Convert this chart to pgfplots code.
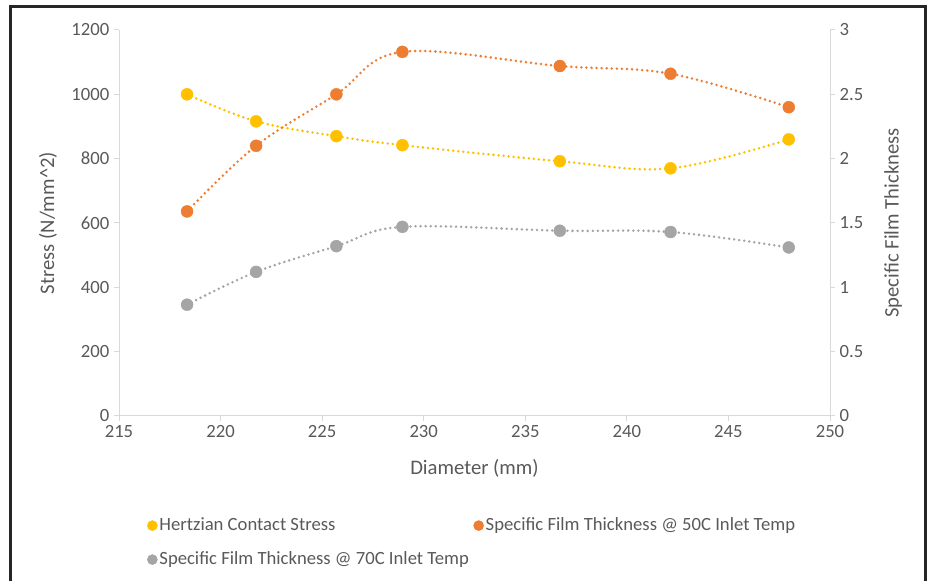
\documentclass[border=0pt]{standalone}
\usepackage{pgfplots}
\pgfplotsset{compat=1.18}
\usepackage{fontspec}
\setmainfont{Carlito}
\definecolor{cY}{HTML}{FFC000}
\definecolor{cO}{HTML}{ED7D31}
\definecolor{cG}{HTML}{A5A5A5}
\definecolor{txt}{HTML}{595959}
\definecolor{axl}{HTML}{D9D9D9}
\definecolor{frm}{HTML}{262626}
\pgfplotsset{
  myax/.style={
    at={(89.25pt,123.75pt)}, anchor=south west,
    scale only axis, width=533.25pt, height=289.5pt,
    xmin=215, xmax=250, xtick={215,220,...,250},
    tick align=outside, major tick length=3.75pt,
    axis line style={axl, line width=0.75pt},
    tick style={axl, line width=0.75pt},
    tick label style={txt, font=\fontsize{14}{16}\selectfont},
    label style={txt, font=\fontsize{15.5}{18}\selectfont},
    /pgf/number format/assume math mode=true,
    /pgf/number format/1000 sep={},
    clip=false,
  },
  ser/.style={#1, line width=2.1pt, dash pattern=on 0pt off 3.8pt, line cap=round, smooth, tension=0.6,
    mark=*, mark size=4.5pt, mark options={solid, fill=#1, draw=#1, line width=0.3pt}},
}
\begin{document}
\begin{tikzpicture}
\useasboundingbox (0pt,0pt) rectangle (698.25pt,435.75pt);
\draw[frm, line width=2.4pt] (7.875pt,-5pt) -- (7.875pt,430.875pt) -- (694.125pt,430.875pt) -- (694.125pt,-5pt);
\begin{axis}[myax, axis y line*=left, axis x line*=bottom,
  ymin=0, ymax=1200, ytick={0,200,...,1200},
  xlabel={Diameter (mm)}, ylabel={Stress (N/mm\textasciicircum 2)},
  xlabel style={at={(axis description cs:0.5,-0.1347)}, anchor=center},
  ylabel style={at={(axis description cs:-0.0999,0.5)}, anchor=center}]
\addplot[ser=cY] coordinates {
 (218.35,1000) (221.75,916) (225.7,870) (228.95,842) (236.7,792) (242.15,770) (247.97,860)};
\end{axis}
\begin{axis}[myax, axis y line*=right, axis x line=none,
  ymin=0, ymax=3, ytick={0,0.5,...,3},
  ylabel={Specific Film Thickness},
  ylabel style={at={(axis description cs:1.0886,0.5)}, anchor=center},
  legend columns=2,
  legend image code/.code={\draw[#1, mark size=3.8pt] plot coordinates {(0.1cm,0cm)};},
  legend style={at={(axis description cs:0.0338,-0.2487)}, anchor=north west,
    draw=none, fill=none, text=txt, font=\fontsize{14}{16}\selectfont,
    nodes={inner sep=1.5pt, text height=10pt, text depth=3pt},
    row sep=9.5pt,
    /tikz/every even column/.append style={column sep=2pt}},
  legend cell align=left]
\addlegendimage{ser=cY}
\addlegendentry{Hertzian Contact Stress}
\addplot[ser=cO] coordinates {
 (218.35,1.59) (221.75,2.10) (225.7,2.50) (228.95,2.83) (236.7,2.72) (242.15,2.66) (247.97,2.40)};
\addlegendentry{Specific Film Thickness @ 50C Inlet Temp}
\addplot[ser=cG] coordinates {
 (218.35,0.865) (221.75,1.12) (225.7,1.32) (228.95,1.47) (236.7,1.44) (242.15,1.43) (247.97,1.31)};
\addlegendentry{Specific Film Thickness @ 70C Inlet Temp}
\end{axis}
\end{tikzpicture}
\end{document}
